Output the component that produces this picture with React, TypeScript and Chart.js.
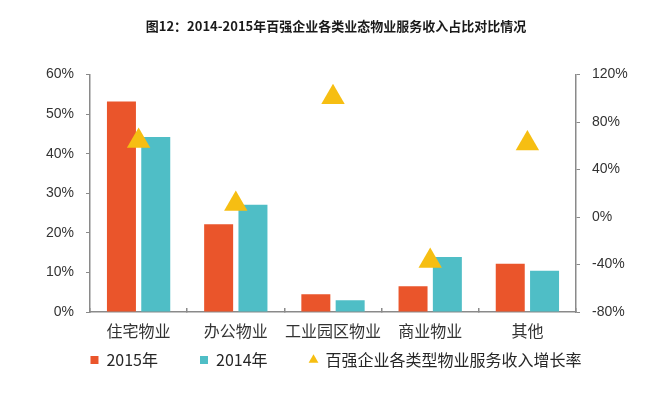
import React, { useEffect, useRef } from "react";
import { Chart, registerables } from "chart.js";

Chart.register(...registerables);

const titleText = "图12：2014-2015年百强企业各类业态物业服务收入占比对比情况";
const categories = ["住宅物业", "办公物业", "工业园区物业", "商业物业", "其他"];
const share2015 = [53.2, 22.2, 4.5, 6.5, 12.2];
const share2014 = [44.2, 27.1, 3.0, 13.9, 10.4];
const growthRate = [64, 11, 101, -37, 62];
const seriesNames = ["2015年", "2014年", "百强企业各类型物业服务收入增长率"];
const leftTicks = { min: 0, max: 60, step: 10 };
const rightTicks = { min: -80, max: 120, step: 40 };

const ORANGE = "#EA552B";
const TEAL = "#4FBEC6";
const YELLOW = "#F6BE12";
const AXIS = "#8A8A8A";
const CJK = '"Noto Sans CJK SC", "Noto Sans", sans-serif';
const LATIN = '"Liberation Sans", Arial, sans-serif';

export default function App() {
  const ref = useRef<HTMLCanvasElement | null>(null);

  useEffect(() => {
    if (!ref.current) return;
    const chart = new Chart(ref.current, {
      type: "bar",
      data: {
        labels: categories,
        datasets: [
          {
            type: "bar",
            label: seriesNames[0],
            data: share2015,
            backgroundColor: ORANGE,
            yAxisID: "y",
            order: 1,
            pointStyle: "rect",
            barPercentage: 0.845,
            categoryPercentage: 0.706,
          } as any,
          {
            type: "bar",
            label: seriesNames[1],
            data: share2014,
            backgroundColor: TEAL,
            yAxisID: "y",
            order: 1,
            pointStyle: "rect",
            barPercentage: 0.845,
            categoryPercentage: 0.706,
          } as any,
          {
            type: "line",
            label: seriesNames[2],
            data: growthRate,
            yAxisID: "y1",
            order: 0,
            showLine: false,
            pointStyle: "triangle",
            pointRadius: 13.5,
            pointHoverRadius: 13.5,
            pointBackgroundColor: YELLOW,
            pointBorderColor: YELLOW,
            pointBorderWidth: 0,
            backgroundColor: YELLOW,
            borderColor: YELLOW,
            borderWidth: 0,
          } as any,
        ],
      },
      options: {
        responsive: false,
        animation: false,
        layout: { padding: { left: 0, right: 0, top: 0, bottom: 19 } },
        plugins: {
          tooltip: { enabled: false },
          title: {
            display: true,
            text: titleText,
            color: "#1a1a1a",
            font: { family: CJK, size: 13, weight: "bold" },
            padding: { top: 18, bottom: 41 },
          },
          legend: {
            position: "bottom",
            labels: {
              usePointStyle: true,
              boxWidth: 8,
              boxHeight: 8,
              padding: 10,
              color: "#262626",
              font: { family: CJK, size: 16 },
              sort: (a: any, b: any) => a.datasetIndex - b.datasetIndex,
              generateLabels: (chart: any) => {
                const items = Chart.defaults.plugins.legend.labels.generateLabels(chart);
                return items.map((it: any) => {
                  if (it.datasetIndex < 2) it.text = it.text + "\u3000\u3000";
                  it.lineWidth = 0;
                  return it;
                });
              },
            },
          },
        },
        scales: {
          x: {
            grid: { display: true, drawOnChartArea: false, drawTicks: true, tickLength: -4, color: AXIS, lineWidth: 1.5 },
            border: { display: true, color: AXIS, width: 1.5 },
            ticks: { color: "#333", font: { family: CJK, size: 16 }, padding: 13, maxRotation: 0, autoSkip: false },
            afterFit: (s: any) => { s.height = 30; },
          },
          y: {
            position: "left",
            min: leftTicks.min,
            max: leftTicks.max,
            grid: { drawOnChartArea: false, tickLength: 4, color: AXIS },
            border: { display: true, color: AXIS, width: 1.5 },
            ticks: {
              stepSize: leftTicks.step,
              color: "#333",
              padding: 12,
              font: { family: LATIN, size: 14 },
              callback: (v: any) => v + "%",
            },
            afterFit: (s: any) => { s.width = 90; },
          },
          y1: {
            position: "right",
            min: rightTicks.min,
            max: rightTicks.max,
            grid: { drawOnChartArea: false, tickLength: 4, color: AXIS },
            border: { display: true, color: AXIS, width: 1.5 },
            ticks: {
              stepSize: rightTicks.step,
              color: "#333",
              padding: 12,
              font: { family: LATIN, size: 14 },
              callback: (v: any) => v + "%",
            },
            afterFit: (s: any) => { s.width = 96; },
          },
        },
      },
    });
    return () => chart.destroy();
  }, []);

  return (
    <div style={{ position: "fixed", left: 0, top: 0, width: 672, height: 397, background: "#fff" }}>
      <canvas ref={ref} width={672} height={397} />
    </div>
  );
}
